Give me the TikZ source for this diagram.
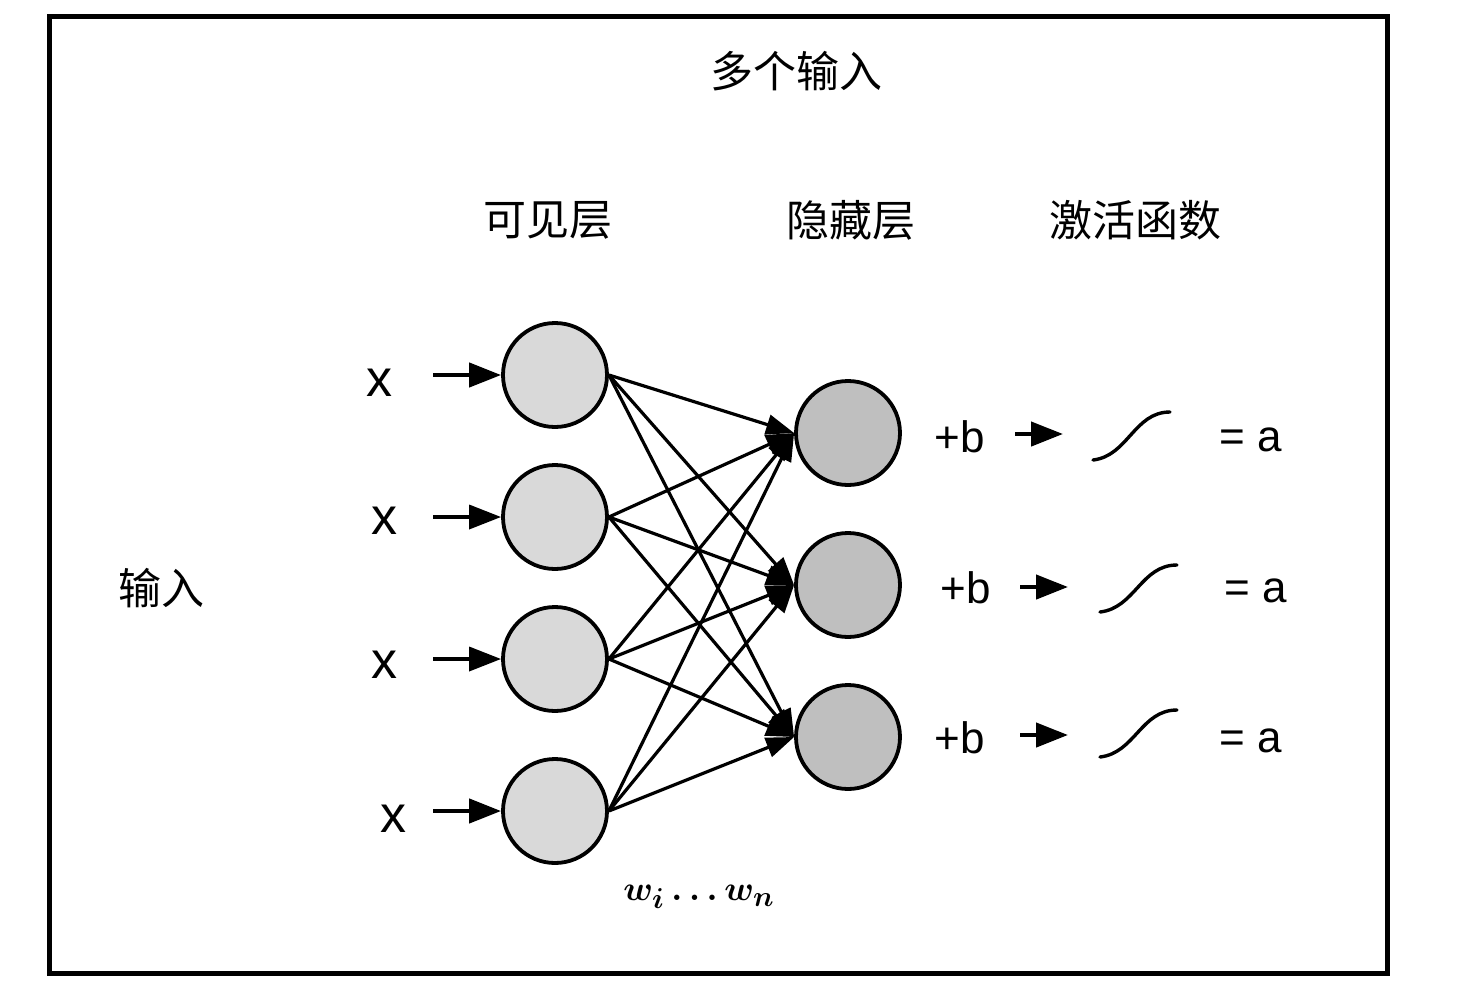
\documentclass[tikz,border=0pt]{standalone}
\usepackage{fontspec}
\setmainfont{Liberation Sans}
\newfontfamily\cjk{Noto Sans CJK SC}
\usetikzlibrary{arrows.meta}
\tikzset{
  unit/.style={circle, draw, line width=1.9pt, minimum size=52pt, inner sep=0pt},
  visunit/.style={unit, fill=gray!30},
  hidunit/.style={unit, fill=gray!50},
  caption/.style={font=\cjk\fontsize{21.5}{26}\selectfont, inner sep=0pt},
  xlabel/.style={font=\fontsize{26}{30}\selectfont, inner sep=0pt},
  term/.style={font=\fontsize{22}{26}\selectfont, inner sep=0pt},
  feed/.style={line width=2.2pt, -{Triangle[length=16pt,width=12pt]}},
  link/.style={line width=1.6pt, -{Triangle[length=14pt,width=10pt]}},
  sigmoid/.style={line width=1.7pt, line cap=round}
}
\begin{document}
\begin{tikzpicture}[x=0.5pt, y=-0.5pt]
  \useasboundingbox (0,0) rectangle (1484,1002);
  \draw [line width=2.5pt] (49,16.5) rectangle (1387.5,973);
  \node [caption] (title)    at (796,71)  {多个输入};
  \node [caption] (vistitle) at (548,220) {可见层};
  \node [caption] (hidtitle) at (851,220) {隐藏层};
  \node [caption] (acttitle) at (1135,220) {激活函数};
  \node [caption] (intitle)  at (161,588) {输入};
  \node [visunit] (v1) at (555,375) {};
  \node [visunit] (v2) at (555,517) {};
  \node [visunit] (v3) at (555,659) {};
  \node [visunit] (v4) at (555,811) {};
  \node [hidunit] (h1) at (848,433) {};
  \node [hidunit] (h2) at (848,585) {};
  \node [hidunit] (h3) at (848,737) {};
  \node [xlabel] (x1) at (379,383) {x};
  \node [xlabel] (x2) at (384,521) {x};
  \node [xlabel] (x3) at (384,665) {x};
  \node [xlabel] (x4) at (393,819) {x};
  \coordinate (in1) at (433,375);
  \coordinate (in2) at (433,517);
  \coordinate (in3) at (433,659);
  \coordinate (in4) at (433,811);
  \draw [feed] (in1) -- (v1);
  \draw [feed, line width=1.8pt] (in2) -- (v2);
  \draw [feed, line width=1.8pt] (in3) -- (v3);
  \draw [feed] (in4) -- (v4);
  \draw [link] (v1.east) -- (h1.west);
  \draw [link] (v1.east) -- (h2.west);
  \draw [link] (v1.east) -- (h3.west);
  \draw [link] (v2.east) -- (h1.west);
  \draw [link] (v2.east) -- (h2.west);
  \draw [link] (v2.east) -- (h3.west);
  \draw [link] (v3.east) -- (h1.west);
  \draw [link] (v3.east) -- (h2.west);
  \draw [link] (v3.east) -- (h3.west);
  \draw [link] (v4.east) -- (h1.west);
  \draw [link] (v4.east) -- (h2.west);
  \draw [link] (v4.east) -- (h3.west);
  \node [font=\fontsize{19}{23}\selectfont\boldmath, inner sep=0pt] (weights) at (699,897) {$w_i \ldots w_n$};
  \node [term] (b1) at (960,437) {+b};
  \node [term] (b2) at (966,588) {+b};
  \node [term] (b3) at (960,738) {+b};
  \coordinate (s1) at (1015,434);
  \coordinate (t1) at (1063,434);
  \coordinate (s2) at (1020,587);
  \coordinate (t2) at (1068,587);
  \coordinate (s3) at (1020,735);
  \coordinate (t3) at (1068,735);
  \draw [feed] (s1) -- (t1);
  \draw [feed] (s2) -- (t2);
  \draw [feed] (s3) -- (t3);
  \draw [sigmoid] (1093,460) .. controls (1128,456) and (1134,412) .. (1170,412);
  \draw [sigmoid] (1100,612) .. controls (1135,608) and (1141,565) .. (1177,565);
  \draw [sigmoid] (1100,757) .. controls (1135,753) and (1141,710) .. (1177,710);
  \node [term] (a1) at (1251,440) {= a};
  \node [term] (a2) at (1256,591) {= a};
  \node [term] (a3) at (1251,741) {= a};
\end{tikzpicture}
\end{document}
